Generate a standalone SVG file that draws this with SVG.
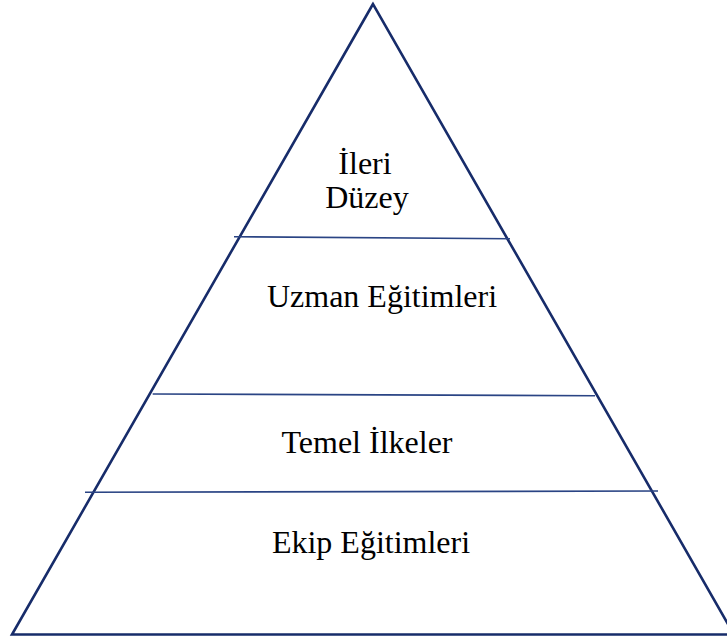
<svg xmlns="http://www.w3.org/2000/svg" width="727" height="644" viewBox="0 0 727 644">
<style>
.tri{fill:none;stroke:#172c6a;stroke-width:2.6;stroke-linejoin:miter}
.sep{stroke:#2a4484;stroke-width:1.6;fill:none}
.lbl{font-family:"Liberation Serif","Times New Roman",serif;font-size:32px;fill:#000;text-anchor:middle}
</style>
<rect width="727" height="644" fill="#fff"/>
<g id="pyramid">
<polygon class="tri" points="373,4 12,634.5 734,634.5"/>
</g>
<g id="connectors">
<line class="sep" x1="234" y1="236.7" x2="510" y2="238.7"/>
<line class="sep" x1="152.7" y1="394" x2="595" y2="395.7"/>
<line class="sep" x1="85" y1="492.3" x2="658" y2="491"/>
</g>
<g id="level-ileri-duzey">
<text class="lbl" x="365" y="174">İleri</text>
<text class="lbl" x="367" y="208">Düzey</text>
</g>
<g id="level-uzman">
<text class="lbl" x="382" y="306.7">Uzman Eğitimleri</text>
</g>
<g id="level-temel">
<text class="lbl" x="367" y="453">Temel İlkeler</text>
</g>
<g id="level-ekip">
<text class="lbl" x="371" y="553">Ekip Eğitimleri</text>
</g>
</svg>
